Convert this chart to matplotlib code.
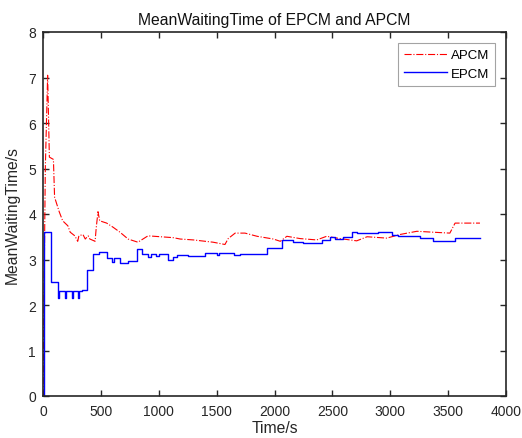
import matplotlib
matplotlib.use("Agg")
import matplotlib.pyplot as plt

plt.rcParams['font.family'] = ['Liberation Sans', 'DejaVu Sans']

# APCM (red, dash-dot)
apcm_t = [0, 20, 40, 55, 90, 100, 140, 170, 215, 235, 275, 300, 310, 345, 365, 390,
          405, 450, 460, 475, 490, 550, 605, 665, 735, 820, 907, 1125, 1185, 1300,
          1470, 1572, 1600, 1660, 1745, 1850, 1990, 2050, 2107, 2220, 2365, 2450,
          2565, 2710, 2800, 2970, 3085, 3230, 3370, 3515, 3560, 3775]
apcm_y = [0, 5.0, 7.05, 5.25, 5.2, 4.37, 4.05, 3.85, 3.74, 3.6, 3.52, 3.4, 3.52, 3.55,
          3.45, 3.52, 3.45, 3.4, 3.7, 4.05, 3.85, 3.8, 3.71, 3.6, 3.45, 3.38, 3.52,
          3.48, 3.45, 3.43, 3.38, 3.33, 3.46, 3.58, 3.58, 3.51, 3.45, 3.40, 3.51,
          3.46, 3.43, 3.51, 3.46, 3.41, 3.5, 3.47, 3.55, 3.62, 3.6, 3.58, 3.8, 3.8]

# EPCM (blue, solid, step-like)
epcm_t = [0, 10, 70, 130, 140, 190, 200, 250, 260, 300, 310, 340, 380, 432, 480,
          553, 600, 615, 665, 734, 812, 855, 907, 935, 980, 1000, 1080, 1120, 1158,
          1250, 1400, 1500, 1520, 1650, 1700, 1935, 2065, 2160, 2250, 2410, 2480,
          2520, 2590, 2670, 2710, 2895, 3015, 3070, 3257, 3370, 3560, 3775]
epcm_y = [0, 3.6, 2.5, 2.15, 2.3, 2.15, 2.3, 2.15, 2.3, 2.15, 2.3, 2.33, 2.77, 3.12,
          3.17, 3.03, 2.95, 3.03, 2.92, 2.97, 3.23, 3.12, 3.05, 3.12, 3.08, 3.12,
          3.0, 3.05, 3.1, 3.08, 3.14, 3.1, 3.14, 3.1, 3.12, 3.25, 3.43, 3.39, 3.36,
          3.43, 3.49, 3.45, 3.5, 3.61, 3.58, 3.6, 3.54, 3.51, 3.47, 3.41, 3.47, 3.47]

fig = plt.figure(figsize=(5.22, 4.39), dpi=100, facecolor='white')
ax = fig.add_axes([43 / 522, 42 / 439, 463 / 522, 364 / 439])

ax.plot(apcm_t, apcm_y, color='#ff0000', linestyle='-.', linewidth=0.8, label='APCM')
ax.plot(epcm_t, epcm_y, color='#0000ff', linestyle='-', linewidth=1.0,
        drawstyle='steps-post', label='EPCM')

ax.set_xlim(0, 4000)
ax.set_ylim(0, 8)
ax.set_xticks(range(0, 4001, 500))
ax.set_yticks(range(0, 9))

ax.tick_params(direction='in', top=True, right=True, length=4, width=1,
               labelsize=10, colors='#262626')
ax.tick_params(axis='x', pad=6)
ax.tick_params(axis='y', pad=5)
for s in ax.spines.values():
    s.set_linewidth(1.2)
    s.set_color('#262626')

ax.set_title('MeanWaitingTime of EPCM and APCM', fontsize=11.3, color='#111111', pad=6)
ax.set_xlabel('Time/s', fontsize=11.3, color='#262626', labelpad=1)
ax.set_ylabel('MeanWaitingTime/s', fontsize=11.3, color='#262626', labelpad=6)

leg = ax.legend(loc='upper right', fontsize=9.5, frameon=True, fancybox=False,
                edgecolor='#8c8c8c', handlelength=3.2, handletextpad=0.3,
                labelspacing=0.45, borderpad=0.5, borderaxespad=0.8)
leg.get_frame().set_linewidth(0.8)

fig.savefig('out.png', dpi=100)
